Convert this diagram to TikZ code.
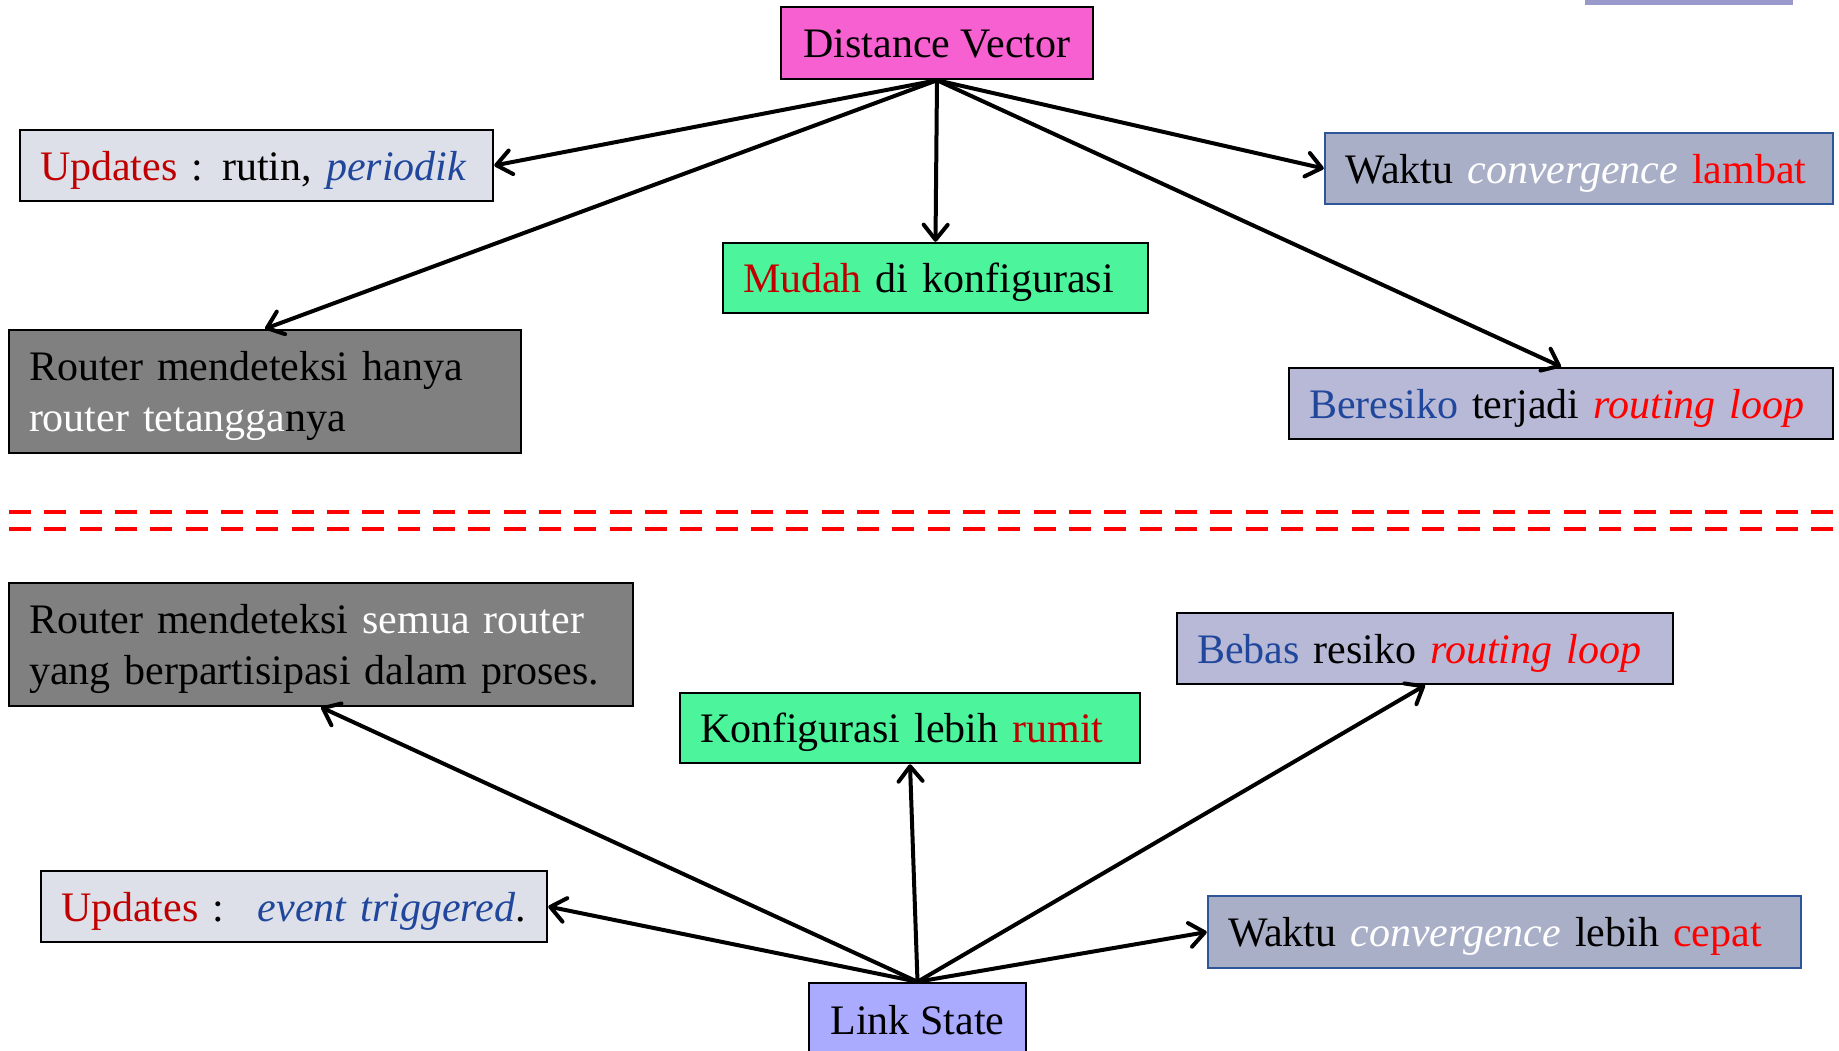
\documentclass[tikz,border=0pt]{standalone}
\usepackage{fontspec}
\setmainfont{Liberation Serif}
\usetikzlibrary{arrows.meta}

\definecolor{dvpink}{HTML}{F660D0}
\definecolor{mint}{HTML}{4CF59C}
\definecolor{updfill}{HTML}{DDE0E9}
\definecolor{routerfill}{HTML}{808080}
\definecolor{waktufill}{HTML}{AAAFC8}
\definecolor{waktuline}{HTML}{2E5597}
\definecolor{loopfill}{HTML}{B8B9D6}
\definecolor{lsfill}{HTML}{AAAAFF}
\definecolor{cornerfill}{HTML}{9999CC}
\definecolor{darkred}{HTML}{C00000}
\definecolor{brightred}{HTML}{FF0000}
\definecolor{textblue}{HTML}{20479C}

\newcommand\cdark[1]{\textcolor{darkred}{#1}}
\newcommand\cbright[1]{\textcolor{brightred}{#1}}
\newcommand\cblu[1]{\textcolor{textblue}{#1}}
\newcommand\cwht[1]{\textcolor{white}{#1}}

\begin{document}
\begin{tikzpicture}[x=1pt,y=-1pt,
  box/.style={draw=black, line width=2.5pt, inner xsep=20pt, inner ysep=0pt,
    align=left, font=\fontsize{42}{51}\selectfont},
  titlebox/.style={draw=black, line width=2.5pt, inner sep=0pt, align=center,
    font=\fontsize{42}{51}\selectfont, text height=38pt, text depth=9pt},
  oneline/.style={text height=38pt, text depth=9pt},
  twoline/.style={text height=38pt},
  link/.style={line width=4pt, line cap=round,
    -{Straight Barb[length=15pt,width=24pt,round]}},
  separator/.style={draw=brightred, line width=3.5pt, dash pattern=on 22pt off 13.33pt}
]
\useasboundingbox (0,0) rectangle (1839,1050);

% corner fragment at the top edge
\node[fill=cornerfill, minimum width=208pt, minimum height=50pt, inner sep=0pt] (corner) at (1689,-20) {};

% ---------- Distance Vector ----------
\node[titlebox, fill=dvpink, minimum width=312pt, minimum height=72pt] (dv) at (937,43) {Distance Vector};

\node[box, oneline, fill=updfill, text width=433pt, minimum height=71pt] (upddv) at (256.5,165.5)
  {\mbox{\cdark{Updates} :\hspace{0.45em}rutin, \cblu{\textit{periodik}}}};

\node[box, twoline, fill=routerfill, text width=472pt, minimum height=123pt] (routerdv) at (265,391.5)
  {\mbox{Router mendeteksi hanya}\\\mbox{\cwht{router tetangga}nya}};

\node[box, oneline, fill=mint, text width=385pt, minimum height=70pt] (mudah) at (935.5,278)
  {\mbox{\cdark{Mudah} di konfigurasi}};

\node[box, oneline, draw=waktuline, fill=waktufill, text width=468pt, minimum height=71pt] (lambat) at (1579,168.5)
  {\mbox{Waktu \cwht{\textit{convergence}} \cbright{lambat}}};

\node[box, oneline, fill=loopfill, text width=504pt, minimum height=71pt] (beresiko) at (1561,403.5)
  {\mbox{\cblu{Beresiko} terjadi \cbright{\textit{routing loop}}}};

\draw[link] (dv.south) -- (upddv.east);
\draw[link] (dv.south) -- (routerdv.north);
\draw[link] (dv.south) -- (mudah.north);
\draw[link] (dv.south) -- (lambat.west);
\draw[link] (dv.south) -- (beresiko.north);

% ---------- separator (double dashed rule) ----------
\draw[separator] (9,512) -- (1833,512);
\draw[separator] (9,529) -- (1833,529);

% ---------- Link State ----------
\node[titlebox, fill=lsfill, minimum width=217pt, minimum height=74pt] (ls) at (917.5,1020) {Link State};

\node[box, twoline, fill=routerfill, text width=584pt, minimum height=123pt] (routerls) at (321,644.5)
  {\mbox{Router mendeteksi \cwht{semua router}}\\\mbox{yang berpartisipasi dalam proses.}};

\node[box, oneline, fill=mint, text width=420pt, minimum height=70pt] (rumit) at (910,728)
  {\mbox{Konfigurasi lebih \cdark{rumit}}};

\node[box, oneline, fill=loopfill, text width=456pt, minimum height=71pt] (bebas) at (1425,648.5)
  {\mbox{\cblu{Bebas} resiko \cbright{\textit{routing loop}}}};

\node[box, oneline, fill=updfill, text width=466pt, minimum height=71pt] (updls) at (294,906.5)
  {\mbox{\cdark{Updates} :\hspace{0.8em}\cblu{\textit{event triggered}}.}};

\node[box, oneline, draw=waktuline, fill=waktufill, text width=553pt, minimum height=72pt] (cepat) at (1504.5,932)
  {\mbox{Waktu \cwht{\textit{convergence}} lebih \cbright{cepat}}};

\draw[link] (ls.north) -- (routerls.south);
\draw[link] (ls.north) -- (rumit.south);
\draw[link] (ls.north) -- (bebas.south);
\draw[link] (ls.north) -- (updls.east);
\draw[link] (ls.north) -- (cepat.west);
\end{tikzpicture}
\end{document}
